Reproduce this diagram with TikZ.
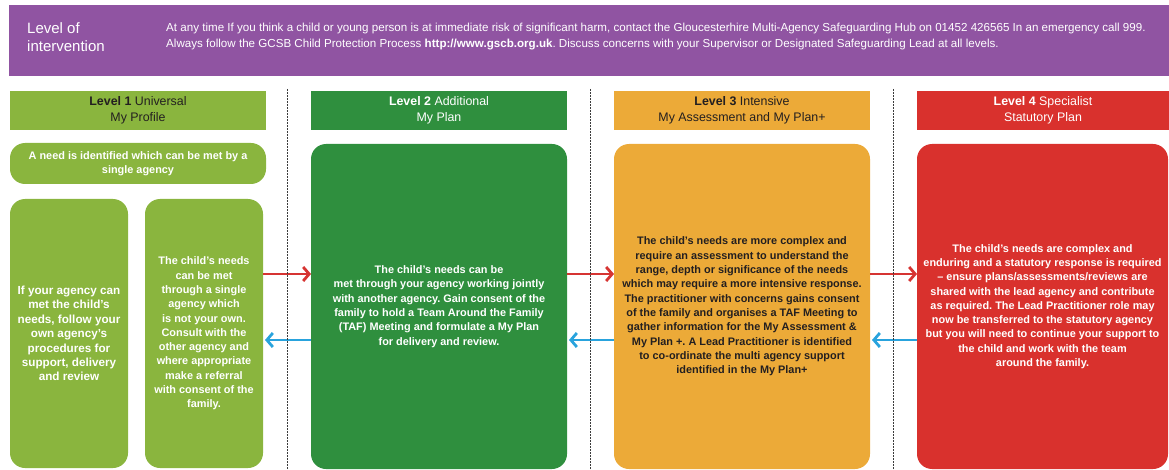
\documentclass[tikz,border=0pt]{standalone}
\usepackage{fontspec}
\setmainfont{Liberation Sans}
\usetikzlibrary{arrows.meta}
\frenchspacing

\definecolor{purpleband}{RGB}{144,84,162}
\definecolor{lvlone}{RGB}{138,181,62}
\definecolor{lvltwo}{RGB}{47,143,62}
\definecolor{lvlthree}{RGB}{236,170,56}
\definecolor{lvlfour}{RGB}{217,49,45}
\definecolor{fwdred}{RGB}{214,52,50}
\definecolor{backblue}{RGB}{41,163,221}
\definecolor{inkdark}{RGB}{35,31,32}
\definecolor{sepgrey}{RGB}{60,60,60}

\tikzset{
  band/.style={fill=purpleband, draw=none, inner sep=0pt, outer sep=0pt, anchor=north west},
  lvlhead/.style={draw=none, inner sep=0pt, outer sep=0pt, anchor=north west,
    minimum height=39pt, align=center, font=\fontsize{12.4}{16}\selectfont},
  panel/.style={draw=none, rounded corners=15pt, inner sep=0pt, outer sep=0pt,
    anchor=north west, align=center, font=\bfseries\fontsize{10.9}{14.3}\selectfont},
  fwd/.style={draw=fwdred, line width=2.8pt,
    -{Straight Barb[length=6pt,width=14pt,line width=2.8pt]}},
  back/.style={draw=backblue, line width=2.8pt,
    -{Straight Barb[length=6pt,width=14pt,line width=2.8pt]}},
  sep/.style={draw=sepgrey, line width=0.9pt, dash pattern=on 0.7pt off 0.8pt}
}

\begin{document}
\begin{tikzpicture}[x=1pt,y=-1pt]
\useasboundingbox (0,0) rectangle (1169,470);

% purple banner with the general guidance
\node[band, minimum width=1160pt, minimum height=71pt] (banner) at (9,5) {};
\node[anchor=north west, inner sep=0pt, align=left, text=white,
      font=\fontsize{15}{18}\selectfont] (bannertitle) at (27,22)
  {Level of\\intervention};
\node[anchor=north west, inner sep=0pt, align=left, text=white,
      font=\fontsize{11.6}{16}\selectfont] (bannertext) at (166,22.5)
  {At any time If you think a child or young person is at immediate risk of significant harm, contact the Gloucesterhire Multi-Agency Safeguarding Hub on 01452 426565 In an emergency call 999.\\
   Always follow the GCSB Child Protection Process \textbf{http://www.gscb.org.uk}. Discuss concerns with your Supervisor or Designated Safeguarding Lead at all levels.};

% level headers
\node[lvlhead, fill=lvlone, minimum width=256pt, text=inkdark] (h1) at (10,91)
  {\textbf{Level 1} Universal\\My Profile};
\node[lvlhead, fill=lvltwo, minimum width=256pt, text=white] (h2) at (311,91)
  {\textbf{Level 2} Additional\\My Plan};
\node[lvlhead, fill=lvlthree, minimum width=256pt, text=inkdark] (h3) at (614,91)
  {\textbf{Level 3} Intensive\\My Assessment and My Plan+};
\node[lvlhead, fill=lvlfour, minimum width=252pt, text=white] (h4) at (917,91)
  {\textbf{Level 4} Specialist\\Statutory Plan};

% level 1 panels
\node[panel, fill=lvlone, text=white, minimum width=256pt, minimum height=41pt] (need) at (10,143)
  {A need is identified which can be met by a\\single agency};
\node[panel, fill=lvlone, text=white, minimum width=118pt, minimum height=269pt,
      font=\bfseries\fontsize{11.7}{14.4}\selectfont] (ownagency) at (10,199)
  {If your agency can\\met the child’s\\needs, follow your\\own agency’s\\procedures for\\support, delivery\\and review};
\node[panel, fill=lvlone, text=white, minimum width=118pt, minimum height=269pt] (single) at (145,199)
  {The child’s needs\\can be met\\through a single\\agency which\\is not your own.\\Consult with the\\other agency and\\where appropriate\\make a referral\\with consent of the\\family.};

% level 2 to 4 panels
\node[panel, fill=lvltwo, text=white, minimum width=256pt, minimum height=325pt] (p2) at (311,144)
  {The child’s needs can be\\met through your agency working jointly\\with another agency. Gain consent of the\\family to hold a Team Around the Family\\(TAF) Meeting and formulate a My Plan\\for delivery and review.};
\node[panel, fill=lvlthree, text=inkdark, minimum width=256pt, minimum height=325pt] (p3) at (614,144)
  {The child’s needs are more complex and\\require an assessment to understand the\\range, depth or significance of the needs\\which may require a more intensive response.\\The practitioner with concerns gains consent\\of the family and organises a TAF Meeting to\\gather information for the My Assessment \&\\My Plan +. A Lead Practitioner is identified\\to co-ordinate the multi agency support\\identified in the My Plan+};
\node[panel, fill=lvlfour, text=white, minimum width=251pt, minimum height=325pt] (p4) at (917,144)
  {The child’s needs are complex and\\enduring and a statutory response is required\\– ensure plans/assessments/reviews are\\shared with the lead agency and contribute\\as required. The Lead Practitioner role may\\now be transferred to the statutory agency\\but you will need to continue your support to\\the child and work with the team\\around the family.};

% heights of the escalation and step-down arrows
\coordinate (up) at (0,274);
\coordinate (down) at (0,340);

% escalation arrows (red) and step-down arrows (blue)
\draw[fwd] (single.east |- up) -- (p2.west |- up);
\draw[fwd] (p2.east |- up) -- (p3.west |- up);
\draw[fwd] (p3.east |- up) -- (p4.west |- up);
\draw[back] (p2.west |- down) -- ([xshift=2pt]single.east |- down);
\draw[back] (p3.west |- down) -- ([xshift=2pt]p2.east |- down);
\draw[back] (p4.west |- down) -- ([xshift=2pt]p3.east |- down);

% dotted column separators
\coordinate (s1top) at (287,89);
\coordinate (s2top) at (590,89);
\coordinate (s3top) at (893,89);
\draw[sep] (s1top) -- (s1top |- 0,470);
\draw[sep] (s2top) -- (s2top |- 0,470);
\draw[sep] (s3top) -- (s3top |- 0,470);
\end{tikzpicture}
\end{document}
